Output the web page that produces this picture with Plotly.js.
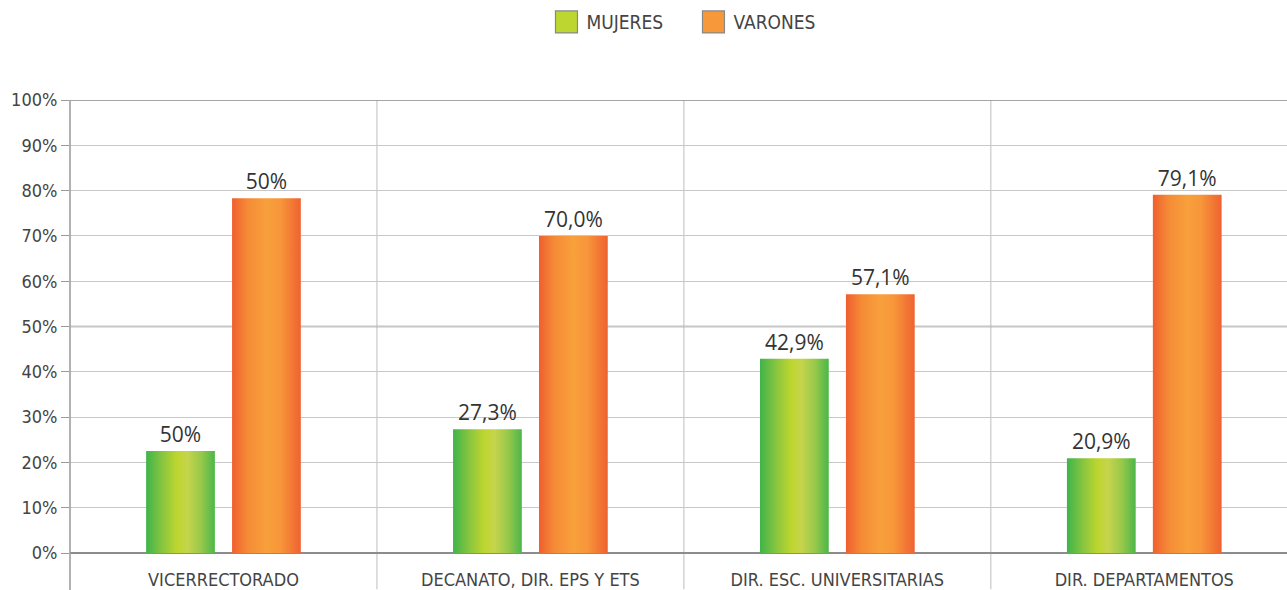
<!DOCTYPE html>
<html><head><meta charset="utf-8">
<script src="https://cdn.plot.ly/plotly-3.0.1.min.js"></script>
<style>html,body{margin:0;padding:0;background:#fff;overflow:hidden}</style>
</head><body>
<div id="chart" style="width:1287px;height:590px"></div>
<script>
const categories = ["VICERRECTORADO", "DECANATO, DIR. EPS Y ETS", "DIR. ESC. UNIVERSITARIAS", "DIR. DEPARTAMENTOS"];
const mujeres = [22.5, 27.3, 42.9, 20.9];
const varones = [78.3, 70.0, 57.1, 79.1];
const mujeresLabels = ["50%", "27,3%", "42,9%", "20,9%"];
const varonesLabels = ["50%", "70,0%", "57,1%", "79,1%"];
const yTickVals = [0,10,20,30,40,50,60,70,80,90,100];
const yTickText = ["0%","10%","20%","30%","40%","50%","60%","70%","80%","90%","100%"];

const FONT = "'DejaVu Sans Condensed', 'Liberation Sans Narrow', sans-serif";
const idx = categories.map((c,i)=>i);

const traces = [
  {type:'bar', name:'MUJERES', x:idx, y:mujeres, text:mujeresLabels, textposition:'outside',
   texttemplate:'%{text}', cliponaxis:false,
   textfont:{family:"'Open Sans', sans-serif", size:21, color:'#333'},
   marker:{color:'#bdd630', line:{width:1.5, color:'#888'}}, hoverinfo:'none'},
  {type:'bar', name:'VARONES', x:idx, y:varones, text:varonesLabels, textposition:'outside',
   texttemplate:'%{text}', cliponaxis:false,
   textfont:{family:"'Open Sans', sans-serif", size:21, color:'#333'},
   marker:{color:'#f7983a', line:{width:1.5, color:'#888'}}, hoverinfo:'none'}
];

const shapes = [];
[0.5,1.5,2.5].forEach(v=>shapes.push({type:'line', xref:'x', yref:'paper', x0:v, x1:v, y0:-0.08, y1:1, line:{color:'#c8c8c8', width:1.2}, layer:'below'}));
shapes.push({type:'line', xref:'paper', yref:'paper', x0:0, x1:0, y0:-0.09, y1:1, line:{color:'#999', width:1.5}});
[100,50].forEach(v=>shapes.push({type:'line', xref:'paper', yref:'y', x0:0, x1:1, y0:v, y1:v, line:{color:'#888', width:1.5}, layer:'below'}));

const layout = {
  width:1287, height:590,
  margin:{l:70, r:0, t:100, b:37},
  paper_bgcolor:'#fff', plot_bgcolor:'#fff',
  barmode:'group', bargap:0.44, bargroupgap:0.2,
  showlegend:true,
  legend:{orientation:'h', x:0.5123, xanchor:'center', y:1.172, yanchor:'middle', entrywidth:102,
          font:{family:FONT, size:19, color:'#444'}, itemclick:false},
  xaxis:{range:[-0.5, 3.465], tickvals:idx, ticktext:categories, ticks:'', showgrid:false,
         zeroline:false, showline:false, ticklabelstandoff:14,
         tickfont:{family:FONT, size:18, color:'#444'}, fixedrange:true},
  yaxis:{range:[0,100], tickvals:yTickVals, ticktext:yTickText, ticks:'outside', ticklen:8,
         tickcolor:'#999', tickwidth:1, showgrid:true, gridcolor:'#c8c8c8', gridwidth:1,
         zeroline:true, zerolinecolor:'#8c8c8c', zerolinewidth:2, showline:false,
         tickfont:{family:FONT, size:18, color:'#444'}, fixedrange:true},
  shapes:shapes
};

function decorate(){
  const svg = document.querySelector('#chart .main-svg');
  const NS = 'http://www.w3.org/2000/svg';
  let defs = svg.querySelector('defs');
  if(!defs){defs = document.createElementNS(NS,'defs'); svg.insertBefore(defs, svg.firstChild);}
  function grad(id, stops){
    if(document.getElementById(id)) return;
    const g = document.createElementNS(NS,'linearGradient');
    g.setAttribute('id', id); g.setAttribute('x1','0'); g.setAttribute('x2','1'); g.setAttribute('y1','0'); g.setAttribute('y2','0');
    stops.forEach(s=>{const st=document.createElementNS(NS,'stop'); st.setAttribute('offset',s[0]); st.setAttribute('stop-color',s[1]); g.appendChild(st);});
    defs.appendChild(g);
  }
  grad('gGreen', [['0','#3fb44a'],['0.25','#8cc63f'],['0.45','#bdd62e'],['0.6','#c6d44c'],['0.8','#98c84a'],['1','#4cb74a']]);
  grad('gOrange', [['0','#f05f2f'],['0.22','#f58a36'],['0.5','#f8a03c'],['0.7','#f7963a'],['1','#ef6230']]);
  const tr = svg.querySelectorAll('.barlayer .trace');
  ['gGreen','gOrange'].forEach((id,i)=>{
    if(!tr[i]) return;
    tr[i].querySelectorAll('path').forEach(p=>{
      p.style.setProperty('fill','url(#'+id+')');
      p.style.setProperty('stroke-width','0');
    });
  });
  document.querySelectorAll('#chart .legend .legendpoints path').forEach(p=>{
    p.setAttribute('d','M11,11H-11V-11H11Z');
    p.style.setProperty('stroke-width','1.2');
  });
}
Plotly.newPlot('chart', traces, layout, {displayModeBar:false, staticPlot:true}).then(decorate);
</script>
</body></html>
